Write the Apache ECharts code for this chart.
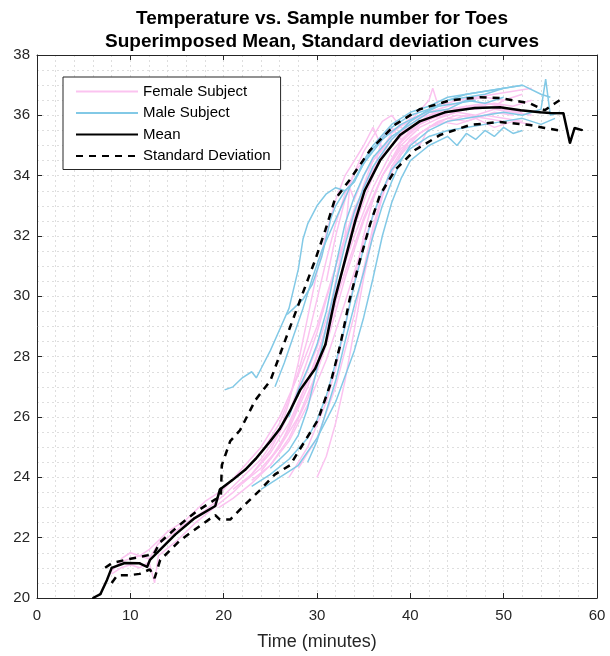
<!DOCTYPE html>
<html>
<head>
<meta charset="utf-8">
<script src="https://cdn.jsdelivr.net/npm/echarts@6/dist/echarts.min.js"></script>
<style>
  html, body { margin: 0; padding: 0; background: #fff; }
  #chart { width: 610px; height: 656px; }
</style>
</head>
<body>
<div id="chart"></div>
<script>
// Axis ticks
const xTicks = [0, 10, 20, 30, 40, 50, 60];
const yTicks = [20, 22, 24, 26, 28, 30, 32, 34, 36, 38];

// Mean and mean +/- standard deviation, [minute, temperature]
const meanCurve = [[6,20.0],[6.8,20.13],[7.5,20.6],[8,21.0],[9.4,21.16],[11,21.15],[11.8,21.03],[12.1,21.26],[13.2,21.6],[14.8,22.1],[16.9,22.65],[19.1,23.05],[19.6,23.6],[20.9,23.9],[22.3,24.25],[23.4,24.6],[25,25.2],[26,25.6],[27.1,26.2],[28.2,26.9],[29.8,27.6],[30.9,28.4],[31.9,29.9],[33,31.2],[34.1,32.5],[35.1,33.5],[36.75,34.5],[38.9,35.35],[41,35.8],[43.7,36.1],[46.9,36.24],[49.6,36.27],[51.8,36.17],[53.9,36.1],[55,36.08],[56.4,36.07],[57.1,35.08],[57.6,35.58],[58.4,35.51]];
const upperStd = [[7.3,21.0],[8,21.15],[9.4,21.26],[11.6,21.4],[12.5,21.45],[13.2,21.85],[15,22.35],[17,22.85],[19,23.25],[19.7,23.35],[19.8,24.4],[20.7,25.2],[21.75,25.56],[23.4,26.56],[25,27.2],[26.6,28.55],[28.2,29.88],[29.8,31.2],[30.9,32.2],[31.9,33.2],[33.5,33.86],[35.7,34.85],[38.4,35.7],[41,36.2],[44.3,36.5],[47.5,36.6],[49.6,36.57],[52.8,36.4],[54.4,36.17],[55.5,36.4],[56,36.5]];
const lowerStd = [[8,20.5],[8.6,20.75],[10,20.76],[11,20.8],[12.1,20.95],[12.6,20.66],[13.2,21.26],[15.3,21.9],[17.5,22.4],[19.1,22.75],[19.6,22.6],[20.7,22.6],[22.3,23.1],[23.9,23.58],[25.5,24.1],[27.1,24.4],[28.7,25.2],[30.1,25.9],[31.4,27.06],[32.5,28.4],[33.5,29.9],[34.6,31.2],[35.7,32.4],[36.75,33.36],[38.4,34.2],[40.5,34.85],[43.2,35.35],[46.4,35.68],[49.6,35.78],[52.8,35.68],[54.4,35.58],[56,35.5]];

// Individual subjects
const femaleCurves = [
  [[7,20.3],[8,20.9],[9,21.2],[10,21.3],[11,21.4],[12,21.3],[13,21.8],[14,22.0],[16,22.5],[18,22.9],[20,23.4],[22,24.0],[24,24.6],[26,25.5],[28,26.8],[30,28.3],[32,30.2],[34,32.0],[36,33.6],[38,34.8],[40,35.5],[42,35.9],[44,36.1],[46,36.2],[48,36.3],[50,36.2],[52,36.1]],
  [[8,20.8],[9,21.0],[10,21.1],[11,21.0],[12,21.2],[12.6,20.5],[13,21.4],[15,21.9],[17,22.5],[19,23.0],[21,23.5],[23,24.1],[25,24.8],[27,25.8],[29,27.2],[31,28.9],[33,30.8],[35,32.6],[37,34.0],[39,35.0],[41,35.6],[43,35.9],[45,36.1],[47,36.0],[49,36.2],[51,36.1],[53,36.0]],
  [[19.5,23.0],[21,23.3],[23,23.8],[25,24.4],[27,25.3],[29,26.6],[31,28.4],[33,30.6],[35,32.5],[37,34.0],[39,35.1],[41,35.7],[43,36.0],[45,36.2],[47,36.3],[49,36.4],[51,36.3],[53,36.5]],
  [[21,23.6],[23,24.1],[25,24.9],[27,26.1],[28,27.0],[30,28.8],[32,31.0],[34,32.9],[36,34.2],[38,35.2],[40,35.8],[42,36.5],[42.4,36.9],[43,36.3],[45,36.5],[47,36.6],[49,36.7],[51,36.8],[53,36.9]],
  [[23,23.9],[25,24.4],[27,25.2],[29,26.4],[31,27.9],[33,29.8],[35,31.8],[37,33.5],[39,34.7],[41,35.4],[43,35.8],[45,36.0],[47,35.9],[49,36.1],[51,36.0]],
  [[24,24.2],[26,25.0],[28,26.4],[30,28.0],[32,30.0],[34,32.3],[36,34.0],[37,35.3],[38,35.6],[39,35.2],[41,35.7],[43,36.0],[45,36.2],[47,36.2],[49,36.3],[50,36.5]],
  [[25,24.6],[27,25.6],[29,27.0],[31,29.0],[32,30.5],[33,32.0],[33.5,33.6],[34,33.2],[35,34.0],[36,34.5],[38,35.3],[40,35.6],[42,35.9],[44,36.0],[46,36.3]],
  [[26,25.5],[27,26.5],[28,27.8],[29,29.3],[30,30.8],[31,32.1],[32,33.2],[33,34.0],[34,34.5],[35,35.0],[36,35.6],[37,34.9],[38,35.4],[40,35.9],[42,36.0],[44,36.1]],
  [[30,24.0],[31,24.7],[32,25.8],[33,27.2],[34,28.9],[35,30.6],[36,32.1],[37,33.3],[38,34.2],[40,35.2],[42,35.6],[44,35.9],[46,35.8],[48,36.0],[50,35.9],[52,35.8]],
  [[28,24.3],[30,25.3],[32,27.0],[34,29.4],[35,30.9],[36,32.3],[37,33.4],[38,34.3],[39,34.8],[40,35.2],[41,35.0],[42,35.6],[44,35.8],[46,36.0],[48,35.9],[50,35.8]],
  [[27,24.0],[29,25.0],[31,26.5],[32,27.6],[33,29.0],[34,30.5],[35,32.0],[36,33.2],[37,34.0],[39,34.9],[41,35.4],[43,35.8],[45,35.7],[47,35.9],[49,35.6],[51,35.8],[53,35.7]],
  [[9,21.3],[10,21.5],[11,21.4],[12,21.6],[13,21.9],[14,22.2],[16,22.6],[18,23.2],[20,23.6],[22,24.3],[24,25.0],[26,26.0],[28,27.4],[30,29.0],[32,31.0],[34,32.8],[36,34.2],[38,35.0],[40,35.6],[42,36.0],[44,36.2],[46,36.3],[48,36.4],[50,36.3]],
  [[22,23.8],[24,24.3],[26,25.0],[28,26.0],[30,27.5],[31,28.5],[32,29.8],[33,31.3],[34,32.6],[35,33.7],[36,34.5],[38,35.2],[40,35.7],[42,36.1],[44,36.3],[46,36.5],[48,36.6],[50,36.5],[52,36.7]],
  [[24,24.8],[26,25.8],[27,26.6],[28,27.5],[29,28.6],[30,29.9],[31,31.2],[32,32.4],[33,33.4],[34,34.1],[36,34.9],[38,35.5],[40,35.8],[42,36.1],[44,36.0]],
  [[31,30.5],[32,32.0],[33,33.2],[34,34.1],[35,34.8],[36,35.3],[37,35.8],[38,36.0],[39,35.6],[40,35.4],[41,35.7]]
];
const maleCurves = [
  [[20.1,26.9],[21,27.0],[22,27.3],[23,27.5],[23.5,27.3],[24,27.6],[25,28.2],[26,28.9],[27,29.6],[28,30.9],[28.5,31.9],[29,32.4],[30,33.0],[31,33.4],[32,33.6],[33,33.5],[34,33.8],[35,34.4],[36,34.9],[38,35.6],[40,36.0],[42,36.2],[44,36.5],[46,36.6],[48,36.7],[50,36.9],[52,37.0]],
  [[26.8,29.4],[27.5,29.6],[28.5,29.9],[29.5,30.4],[30.5,31.3],[31.5,32.6],[32,33.0],[33,33.5],[34,33.8],[35,34.5],[36,35.0],[38,35.7],[40,36.1],[42,36.3],[44,36.6],[46,36.7],[48,36.8],[50,36.9]],
  [[24,23.6],[26,24.0],[28,24.4],[30,25.3],[32,26.5],[34,28.2],[35,29.3],[36,30.6],[37,32.0],[38,33.1],[39,33.9],[40,34.5],[42,35.0],[44,35.3],[45,35.0],[46,35.4],[47,35.2],[48,35.5],[49,35.3],[50,35.6],[51,35.4],[52,35.5]],
  [[29,24.5],[30,25.2],[31,26.2],[32,27.2],[33,28.5],[34,29.7],[35,30.8],[36,32.0],[37,33.0],[38,33.8],[39,34.5],[40,35.0],[42,35.5],[44,35.8],[46,35.9],[48,36.0],[50,36.1],[52,36.0],[54,36.2],[54.5,37.2],[55,36.0],[56,36.1]],
  [[25,24.3],[27,24.9],[28,25.4],[29,26.3],[30,27.6],[31,29.0],[32,30.4],[33,31.7],[34,32.8],[35,33.6],[36,34.3],[38,35.2],[40,35.8],[42,36.2],[44,36.5],[46,36.7],[48,36.8],[50,36.9],[52,37.0],[54,36.7],[55,36.6]],
  [[25.5,27.0],[26.5,27.8],[27.5,28.7],[28.5,29.6],[29.5,30.6],[30.5,31.5],[31.5,32.2],[32.5,32.9],[33.5,33.6],[35,34.4],[37,35.2],[39,35.7],[41,36.0],[43,36.3],[45,36.4],[47,36.5]],
  [[23,23.7],[25,24.1],[27,24.6],[29,25.3],[30,25.9],[31,26.7],[32,27.8],[33,29.0],[34,30.4],[35,31.6],[36,32.7],[37,33.5],[38,34.2],[40,34.9],[42,35.3],[44,35.5],[46,35.6],[48,35.7],[50,35.8],[52,35.9],[54,35.7],[55.5,35.9]],
  [[27,26.0],[28,26.9],[29,27.6],[30,28.4],[31,29.5],[32,31.0],[33,32.4],[34,33.3],[35,34.0],[36,34.6],[38,35.3],[40,35.7],[42,36.1],[44,36.2],[46,36.5],[48,36.4],[50,36.6]]
];

const femaleColor = '#fbc3f0';
const maleColor = '#82c9e6';
const fontFamily = '"Liberation Sans", Arial, sans-serif';

const chart = echarts.init(document.getElementById('chart'));

function subjectSeries(curves, name, color) {
    return curves.map(c => ({
        name: name,
        type: 'line',
        data: c,
        symbol: 'none',
        silent: true,
        lineStyle: { color: color, width: 1.5 },
        itemStyle: { color: color }
    }));
}

const gridLine = { show: true, lineStyle: { color: '#dedede', type: [2, 3], width: 1 } };

const series = []
    .concat(subjectSeries(femaleCurves, 'Female Subject', femaleColor))
    .concat(subjectSeries(maleCurves, 'Male Subject', maleColor))
    .concat([{
        name: 'Mean',
        type: 'line',
        data: meanCurve,
        symbol: 'circle',
        symbolSize: 2,
        lineStyle: { color: '#000', width: 2.5 },
        itemStyle: { color: '#000' }
    }, {
        name: 'Standard Deviation',
        type: 'line',
        data: upperStd,
        symbol: 'none',
        lineStyle: { color: '#000', width: 2.5, type: [7, 6] },
        itemStyle: { color: '#000' }
    }, {
        name: 'Standard Deviation',
        type: 'line',
        data: lowerStd,
        symbol: 'none',
        lineStyle: { color: '#000', width: 2.5, type: [7, 6] },
        itemStyle: { color: '#000' }
    }]);

const tickStyle = { show: true, inside: true, length: 5, lineStyle: { color: '#262626', width: 1 } };

const option = {
    animation: false,
    backgroundColor: '#fff',
    title: {
        text: 'Temperature vs. Sample number for Toes\nSuperimposed Mean, Standard deviation curves',
        left: 317,
        textAlign: 'center',
        top: 2,
        textStyle: { fontFamily: fontFamily, fontSize: 19, fontWeight: 'bold', color: '#000', lineHeight: 23 }
    },
    legend: {
        orient: 'vertical',
        left: 63,
        top: 77,
        padding: [7, 10, 6, 12],
        itemWidth: 62,
        itemHeight: 15,
        itemGap: 6.5,
        backgroundColor: '#fff',
        borderColor: '#262626',
        borderWidth: 1,
        borderRadius: 0,
        itemStyle: { color: 'transparent', borderWidth: 0 },
        data: ['Female Subject', 'Male Subject', 'Mean', 'Standard Deviation'],
        textStyle: { fontFamily: fontFamily, fontSize: 15, color: '#000' }
    },
    grid: { left: 37, right: 13, top: 55, bottom: 58, show: false },
    xAxis: [{
        type: 'value',
        min: xTicks[0],
        max: xTicks[xTicks.length - 1],
        interval: 10,
        name: 'Time (minutes)',
        nameLocation: 'middle',
        nameGap: 35,
        nameTextStyle: { fontFamily: fontFamily, fontSize: 18, color: '#262626' },
        axisLine: { onZero: false, lineStyle: { color: '#262626', width: 1 } },
        axisTick: tickStyle,
        axisLabel: { fontFamily: fontFamily, fontSize: 15, color: '#262626', margin: 10 },
        minorTick: { show: false, splitNumber: 5 },
        splitLine: gridLine,
        minorSplitLine: gridLine
    }, {
        type: 'value',
        position: 'top',
        min: xTicks[0],
        max: xTicks[xTicks.length - 1],
        interval: 10,
        axisLine: { show: true, onZero: false, lineStyle: { color: '#262626', width: 1 } },
        axisTick: tickStyle,
        axisLabel: { show: false },
        splitLine: { show: false }
    }],
    yAxis: [{
        type: 'value',
        min: yTicks[0],
        max: yTicks[yTicks.length - 1],
        interval: 2,
        axisLine: { show: true, onZero: false, lineStyle: { color: '#262626', width: 1 } },
        axisTick: tickStyle,
        axisLabel: { fontFamily: fontFamily, fontSize: 15, color: '#262626', margin: 7 },
        minorTick: { show: false, splitNumber: 4 },
        splitLine: gridLine,
        minorSplitLine: gridLine
    }, {
        type: 'value',
        position: 'right',
        min: yTicks[0],
        max: yTicks[yTicks.length - 1],
        interval: 2,
        axisLine: { show: true, onZero: false, lineStyle: { color: '#262626', width: 1 } },
        axisTick: tickStyle,
        axisLabel: { show: false },
        splitLine: { show: false }
    }],
    series: series
};
chart.setOption(option);
</script>
</body>
</html>
